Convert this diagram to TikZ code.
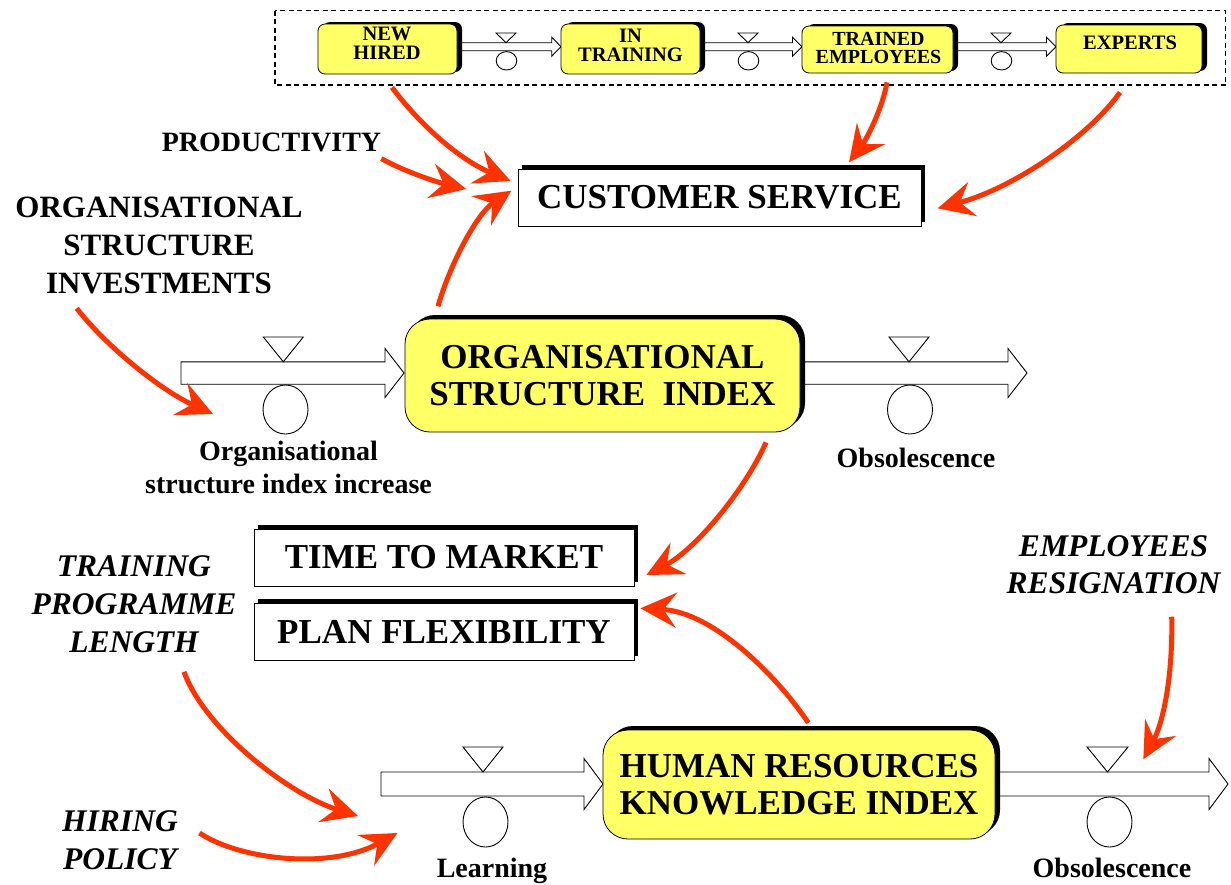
\documentclass[tikz,border=0pt]{standalone}
\usepackage{fontspec}
\setmainfont{Liberation Serif}
\usetikzlibrary{arrows.meta,shadows,calc}
\definecolor{stockyellow}{HTML}{FFFF66}
\definecolor{linkred}{HTML}{FF3300}
\newcommand\flowpipe[6]{% x0, xbase, xtip, yc, h, H
  \draw[pipeshape] (#1,#4-#5) -- (#2,#4-#5) -- (#2,#4-#6) -- (#3,#4) -- (#2,#4+#6) -- (#2,#4+#5) -- (#1,#4+#5) -- cycle;}
\newcommand\flowvalve[8]{% xapex, ytop, yapex, halfwidth, cx, cy, rx, ry
  \draw[pipeshape] (#1-#4,#2) -- (#1+#4,#2) -- (#1,#3) -- cycle;
  \draw[pipeshape] (#5,#6) ellipse [x radius=#7, y radius=#8];}
\begin{document}
\begin{tikzpicture}[x=1pt,y=-1pt,
  link/.style={draw=linkred, line width=5pt, -{Stealth[length=36pt,width=35pt,inset=13pt]}},
  pipeshape/.style={draw=black, line width=0.9pt, fill=white},
  stockbig/.style={rectangle, rounded corners=25pt, draw=black, line width=0.8pt, fill=stockyellow,
    drop shadow={shadow xshift=5pt,shadow yshift=4pt,fill=black,opacity=1},
    inner sep=0pt, align=center, font=\fontsize{35}{37.5}\selectfont\bfseries},
  stocksmall/.style={rectangle, rounded corners=7pt, draw=black, line width=0.8pt, fill=stockyellow,
    drop shadow={shadow xshift=5pt,shadow yshift=2pt,fill=black,opacity=1}, inner sep=0pt},
  smalltext/.style={inner sep=0pt, align=center, font=\fontsize{20.5}{19}\selectfont\bfseries},
  auxbox/.style={rectangle, draw=black, line width=0.8pt, fill=white,
    drop shadow={shadow xshift=4pt,shadow yshift=4pt,fill=black,opacity=1},
    inner sep=0pt, font=\fontsize{35}{37}\selectfont\bfseries},
  lab/.style={inner sep=0pt, align=center, font=\fontsize{28}{33}\selectfont\bfseries},
  biglab/.style={inner sep=0pt, align=center, font=\fontsize{31}{38}\selectfont\bfseries},
  itlab/.style={inner sep=0pt, align=center, font=\fontsize{31.5}{38}\selectfont\bfseries\itshape},
  groupbox/.style={draw=black, line width=1.4pt, dash pattern=on 5pt off 3.5pt}
]
\useasboundingbox (0,0) rectangle (1231,884);
\fill[white] (0,0) rectangle (1231,884);

% ---------- top chain ----------
\draw[groupbox] (275,10.5) rectangle (1225.5,85);
\flowpipe{450}{551.7}{561}{46.7}{4}{9.5}
\flowpipe{695}{792.5}{802}{46.7}{4}{9.5}
\flowpipe{948}{1046.5}{1056}{46.7}{4}{9.5}
\node[stocksmall, minimum width=139pt, minimum height=50pt] (nh) at (387.5,49) {};
\node[stocksmall, minimum width=139pt, minimum height=50pt] (it) at (630.5,49) {};
\node[stocksmall, minimum width=151pt, minimum height=47pt] (te) at (877.5,49.5) {};
\node[stocksmall, minimum width=146pt, minimum height=48pt] (ex) at (1129,49) {};
\node[smalltext] (nhtext) at (387,43.3) {NEW\\HIRED};
\node[smalltext] (ittext) at (630.5,45) {IN\\TRAINING};
\node[smalltext, font=\fontsize{20}{18.6}\selectfont\bfseries] (tetext) at (878.5,48) {TRAINED\\EMPLOYEES};
\node[smalltext] (extext) at (1130,42.5) {EXPERTS};
\flowvalve{506}{33}{42.7}{10}{506.5}{60.8}{10.3}{9.2}
\flowvalve{748}{33}{42.7}{10}{748.5}{60.8}{10.3}{9.2}
\flowvalve{1001}{33}{42.7}{10}{1001.5}{60.8}{10.3}{9.2}

% ---------- customer service ----------
\node[auxbox, minimum width=403pt, minimum height=57pt] (cs) at (719.5,197.5) {CUSTOMER SERVICE};
\node[lab, anchor=base] (prod) at (271.5,151.7) {PRODUCTIVITY};
\node[biglab] (osinv) at (159,245.1) {ORGANISATIONAL\\STRUCTURE\\INVESTMENTS};

% ---------- organisational structure index ----------
\flowpipe{181}{385}{404}{373}{11.2}{24.5}
\flowpipe{800}{1008}{1027}{373}{11.2}{24.5}
\node[stockbig, minimum width=395pt, minimum height=113pt] (osi) at (602.5,375.5) {ORGANISATIONAL\\STRUCTURE\ \ INDEX};
\flowvalve{283.3}{337}{361.8}{20}{285.5}{409.5}{22.5}{24.5}
\flowvalve{909}{337}{361.8}{20}{910}{409.5}{22.5}{24.5}
\coordinate (osiin) at (285.5,373);
\coordinate (osiout) at (910,373);
\node[lab] (osiinlab) at (288.5,467.4) {Organisational\\structure index increase};
\node[lab, anchor=base] (osioutlab) at (916,467) {Obsolescence};

% ---------- time to market / plan flexibility ----------
\node[auxbox, minimum width=380pt, minimum height=57pt] (ttm) at (444,557.5) {TIME TO MARKET};
\node[auxbox, minimum width=380pt, minimum height=57pt] (pf) at (444,631.5) {PLAN FLEXIBILITY};
\node[itlab] (tpl) at (134,604) {TRAINING\\PROGRAMME\\LENGTH};
\node[itlab] (hp) at (120,840) {HIRING\\POLICY};
\node[itlab, font=\fontsize{31.5}{37.5}\selectfont\bfseries\itshape] (er) at (1113.5,564.5) {EMPLOYEES\\RESIGNATION};

% ---------- human resources knowledge index ----------
\flowpipe{381}{584}{603}{784}{12}{25.5}
\flowpipe{995}{1209}{1228}{784}{12}{25.5}
\node[stockbig, minimum width=392pt, minimum height=109pt] (hrki) at (799,784.5) {HUMAN RESOURCES\\KNOWLEDGE INDEX};
\flowvalve{483}{747}{772}{20}{485.5}{822}{22.5}{25}
\flowvalve{1107.5}{747}{772}{20.5}{1109.5}{822}{22.5}{25}
\coordinate (learn) at (485.5,784);
\coordinate (hrout) at (1109.5,784);
\node[lab, anchor=base] (learnlab) at (492,877) {Learning};
\node[lab, anchor=base] (hroutlab) at (1112,877) {Obsolescence};

% ---------- causal links ----------
\draw[link] ($(nh.south)+(4.5,13)$) .. controls (420,125) and (460,160) .. ($(cs.west)+(-7,-16.5)$);
\draw[link] ($(prod.south east)+(0,6.3)$) .. controls (405,172) and (440,183) .. ($(cs.west)+(-51.3,-8.5)$);
\draw[link] ($(osi.north)+(-164.5,-12.3)$) .. controls (448,270) and (475,215) .. ($(cs.west)+(-6.3,-6.8)$);
\draw[link] ($(te.south)+(9.5,9)$) .. controls (882,110) and (866,140) .. ($(cs.north)+(129.5,-6.3)$);
\draw[link] ($(ex.south)+(-9,19)$) .. controls (1090,135) and (1015,188) .. ($(cs.east)+(16.3,10.8)$);
\draw[link] ($(osinv.south)+(-82.3,14.5)$) .. controls (105,345) and (160,390) .. ($(osiin)+(-72.5,41)$);
\draw[link] ($(osi.south)+(163.5,10)$) .. controls (745,490) and (695,550) .. ($(ttm.east)+(12,17.5)$);
\draw[link] ($(hrki.north)+(9.3,-6.7)$) .. controls (780,680) and (715,612) .. ($(pf.east)+(6,-23.2)$);
\draw[link] ($(tpl.south)+(50,19)$) .. controls (205,730) and (290,795) .. ($(learn)+(-127.5,32)$);
\draw[link] ($(hp.east)+(21.5,-7)$) .. controls (240,860) and (330,870) .. ($(learn)+(-88.1,49)$);
\draw[link] ($(er.south)+(58.2,22.7)$) .. controls (1173,680) and (1162,725) .. ($(hrout)+(33.8,-24.7)$);
\end{tikzpicture}
\end{document}
